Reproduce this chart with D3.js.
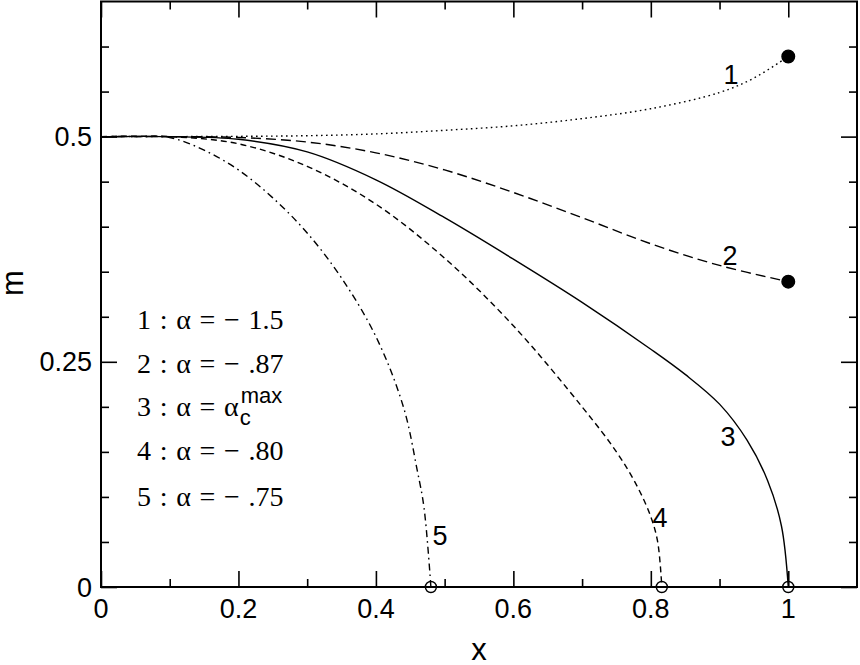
<!DOCTYPE html>
<html><head><meta charset="utf-8">
<script src="https://cdn.jsdelivr.net/npm/d3@7"></script>
<style>body{margin:0;background:#fff}svg{display:block}</style>
</head><body>
<svg id="c" width="860" height="665"></svg>
<script>
// ---- data ----
const curve1X = [0, 0.1, 0.2, 0.3, 0.4, 0.5, 0.6, 0.7, 0.8, 0.9, 0.95, 1.0];
const curve1M = [0.5, 0.5, 0.5003, 0.501, 0.503, 0.507, 0.512, 0.52, 0.531, 0.549, 0.565, 0.589];
const curve2X = [0, 0.1, 0.2, 0.3, 0.4, 0.5, 0.6, 0.7, 0.8, 0.9, 1.0];
const curve2M = [0.5, 0.5, 0.499, 0.494, 0.482, 0.463, 0.438, 0.41, 0.381, 0.357, 0.339];
const curve3X = [0, 0.1, 0.2, 0.3, 0.4, 0.5, 0.6, 0.7, 0.8, 0.85, 0.9, 0.94, 0.97, 0.99, 1.0];
const curve3M = [0.5, 0.5, 0.497, 0.483, 0.452, 0.41, 0.364, 0.316, 0.264, 0.236, 0.203, 0.163, 0.118, 0.068, 0];
const curve4X = [0, 0.1, 0.2, 0.3, 0.4, 0.5, 0.6, 0.7, 0.75, 0.78, 0.8, 0.81, 0.816];
const curve4M = [0.5, 0.5, 0.492, 0.467, 0.425, 0.365, 0.29, 0.2, 0.15, 0.112, 0.078, 0.05, 0];
const curve5X = [0, 0.05, 0.1, 0.15, 0.2, 0.25, 0.3, 0.35, 0.4, 0.44, 0.46, 0.47, 0.48];
const curve5M = [0.5, 0.5, 0.499, 0.485, 0.463, 0.432, 0.393, 0.343, 0.278, 0.2, 0.13, 0.088, 0];
const curveNames = ["1", "2", "3", "4", "5"];
const endMarkerFilled = [true, true, false, false, false];
const legendLabels = ["1 : α = − 1.5", "2 : α = − .87", "3 : α = α", "4 : α = − .80", "5 : α = − .75"];
const xMajorTicks = [0, 0.2, 0.4, 0.6, 0.8, 1.0];
const xTickLabels = ["0", "0.2", "0.4", "0.6", "0.8", "1"];
const xMinorTicks = [0.1, 0.3, 0.5, 0.7, 0.9];
const yMajorTicks = [0, 0.25, 0.5];
const yTickLabels = ["0", "0.25", "0.5"];
const yMinorTicks = [0.05, 0.1, 0.15, 0.2, 0.3, 0.35, 0.4, 0.45, 0.55, 0.6];

// ---- layout ----
const L = 101, R = 857, T = 1.5, B = 587;
const x = d3.scaleLinear().domain([0, 1.1]).range([L, R]);
const y = d3.scaleLinear().domain([0, 0.65]).range([B, T]);
const svg = d3.select("#c");
const sans = "'Liberation Sans', Arial, Helvetica, sans-serif";
const serif = "'Liberation Serif', 'Times New Roman', serif";

function axis(gen, tx, ty, vals, size) {
  const g = svg.append("g").attr("transform", `translate(${tx},${ty})`)
    .call(gen.tickValues(vals).tickSize(size).tickFormat(""));
  g.select(".domain").remove();
  g.selectAll("line").attr("stroke", "#000").attr("stroke-width", 1.6);
  g.selectAll("text").remove();
}
axis(d3.axisBottom(x), 0, B, xMajorTicks, -16);
axis(d3.axisBottom(x), 0, B, xMinorTicks, -8);
axis(d3.axisTop(x), 0, T, xMajorTicks, -16);
axis(d3.axisTop(x), 0, T, xMinorTicks, -8);
axis(d3.axisLeft(y), L, 0, yMajorTicks, -16);
axis(d3.axisLeft(y), L, 0, yMinorTicks, -8);
axis(d3.axisRight(y), R, 0, yMajorTicks, -16);
axis(d3.axisRight(y), R, 0, yMinorTicks, -8);

svg.append("rect").attr("x", L).attr("y", T).attr("width", R - L).attr("height", B - T)
  .attr("fill", "none").attr("stroke", "#000").attr("stroke-width", 2);

// tick labels
svg.append("g").selectAll("text").data(xMajorTicks).join("text")
  .attr("x", d => x(d)).attr("y", 618).attr("text-anchor", "middle")
  .attr("font-family", sans).attr("font-size", 27).text((d, i) => xTickLabels[i]);
svg.append("g").selectAll("text").data(yMajorTicks).join("text")
  .attr("x", 92).attr("y", d => y(d) + 9.5).attr("text-anchor", "end")
  .attr("font-family", sans).attr("font-size", 27).text((d, i) => yTickLabels[i]);

// axis titles
svg.append("text").attr("x", (L + R) / 2).attr("y", 660).attr("text-anchor", "middle")
  .attr("font-family", sans).attr("font-size", 31).text("x");
svg.append("text").attr("transform", "translate(23,283) rotate(-90)").attr("text-anchor", "middle")
  .attr("font-family", sans).attr("font-size", 31).text("m");

// curves
const curves = [
  {xs: curve1X, ms: curve1M, dash: "1.6,3.4"},
  {xs: curve2X, ms: curve2M, dash: "10,5"},
  {xs: curve3X, ms: curve3M, dash: null},
  {xs: curve4X, ms: curve4M, dash: "6,4"},
  {xs: curve5X, ms: curve5M, dash: "7,4,1.6,4"}
];
const line = d3.line().x(d => x(d[0])).y(d => y(d[1])).curve(d3.curveCatmullRom.alpha(0.5));
curves.forEach((c, i) => {
  const pts = c.xs.map((v, j) => [v, c.ms[j]]);
  svg.append("path").attr("d", line(pts)).attr("fill", "none").attr("stroke", "#000")
    .attr("stroke-width", 1.4).attr("stroke-dasharray", c.dash);
});
curves.forEach((c, i) => {
  const n = c.xs.length - 1;
  svg.append("circle").attr("cx", x(c.xs[n])).attr("cy", y(c.ms[n]))
    .attr("r", endMarkerFilled[i] ? 6.3 : 5.5)
    .attr("fill", endMarkerFilled[i] ? "#000" : "none")
    .attr("stroke", "#000").attr("stroke-width", 1.4);
});

// curve labels
const labelPos = [[731, 84], [730, 265], [728, 446], [660, 527], [440, 545]];
curveNames.forEach((n, i) => {
  svg.append("text").attr("x", labelPos[i][0]).attr("y", labelPos[i][1]).attr("text-anchor", "middle")
    .attr("font-family", sans).attr("font-size", 27).text(n);
});

// legend
const legendY = [329, 373, 416, 460, 506];
legendLabels.forEach((t, i) => {
  const tx = svg.append("text").attr("x", 137).attr("y", legendY[i])
    .attr("font-family", serif).attr("font-size", 28).attr("word-spacing", 1.7)
    .style("white-space", "pre").text(t);
  if (i === 2) {
    const w = tx.node().getComputedTextLength();
    svg.append("text").attr("x", 137 + w + 1).attr("y", legendY[i] + 9)
      .attr("font-family", sans).attr("font-size", 22).text("c");
    svg.append("text").attr("x", 137 + w + 2).attr("y", legendY[i] - 13)
      .attr("font-family", sans).attr("font-size", 22).text("max");
  }
});
</script>
</body></html>
